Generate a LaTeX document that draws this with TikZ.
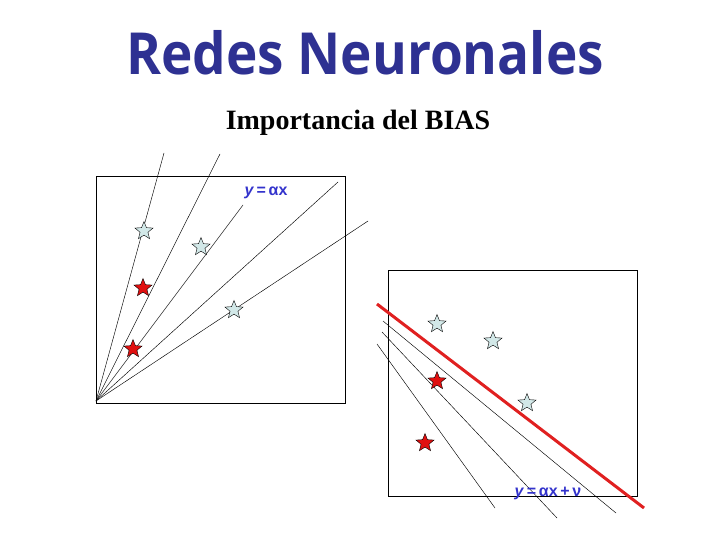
\documentclass[tikz,border=0pt]{standalone}
\usepackage{fontspec}
\usepackage{graphicx}
\setmainfont{Liberation Serif}
\newfontfamily\titlefont{Open Sans}
\newfontfamily\labelfont{Liberation Sans}
\usetikzlibrary{shapes.geometric}
\definecolor{titleblue}{HTML}{2E3192}
\definecolor{labelblue}{HTML}{3333CC}
\definecolor{starlight}{HTML}{D2E8E8}
\definecolor{starred}{HTML}{E01010}
\definecolor{fitred}{HTML}{E02020}
\tikzset{
  panel/.style={draw=black, line width=0.6pt},
  ray/.style={draw=black, line width=0.45pt},
  starshape/.style={star, star points=5, star point ratio=2.3, minimum size=19pt, inner sep=0pt, draw=black, line width=0.4pt},
  lightstar/.style={starshape, fill=starlight},
  redstar/.style={starshape, fill=starred},
  eqlabel/.style={text=labelblue, inner sep=1pt, font=\labelfont\bfseries\fontsize{16}{18}\selectfont},
}
\begin{document}
\begin{tikzpicture}[x=1pt,y=-1pt]
\useasboundingbox (0,0) rectangle (720,540);
% titles
\node[anchor=base, text=titleblue, font=\titlefont\bfseries\fontsize{58}{60}\selectfont] (title) at (365,75) {\scalebox{0.915}[1]{Redes Neuronales}};
\node[anchor=base, font=\bfseries\fontsize{28}{30}\selectfont] (sub) at (358,130) {Importancia del BIAS};
% left panel
\draw[panel] (96,176) rectangle (345,403);
\coordinate (o) at (96,401);
\coordinate (e1) at (164,153);
\coordinate (e2) at (220,154);
\coordinate (e3) at (243,205);
\coordinate (e4) at (338,182);
\coordinate (e5) at (368,221);
\foreach \e in {e1,e2,e3,e4,e5} \draw[ray] (o) -- (\e);
\node[eqlabel, anchor=base] (lab1) at (266,196) {\textit{y}\,=\,αx};
\node[lightstar] (l1) at (144,231) {};
\node[lightstar] (l2) at (201,247) {};
\node[lightstar] (l3) at (234,310) {};
\node[redstar] (r1) at (143,288) {};
\node[redstar] (r2) at (133,349) {};
% right panel
\draw[panel] (388,270) rectangle (637,496);
\coordinate (a1) at (383,321);
\coordinate (a2) at (616,513);
\coordinate (b1) at (382,332);
\coordinate (b2) at (557,518);
\coordinate (c1) at (377,344);
\coordinate (c2) at (495,508);
\draw[ray] (a1) -- (a2);
\draw[ray] (b1) -- (b2);
\draw[ray] (c1) -- (c2);
\coordinate (f1) at (377,304);
\coordinate (f2) at (644,508);
\draw[fitred, line width=3pt] (f1) -- (f2);
\node[lightstar] (m1) at (437,324) {};
\node[lightstar] (m2) at (493,341) {};
\node[lightstar] (m3) at (527,403) {};
\node[redstar] (s1) at (437,381) {};
\node[redstar] (s2) at (425,443) {};
\node[eqlabel, anchor=base] (lab2) at (548,496) {\textit{y}\,=\,αx\,+\,ν};
\end{tikzpicture}
\end{document}
